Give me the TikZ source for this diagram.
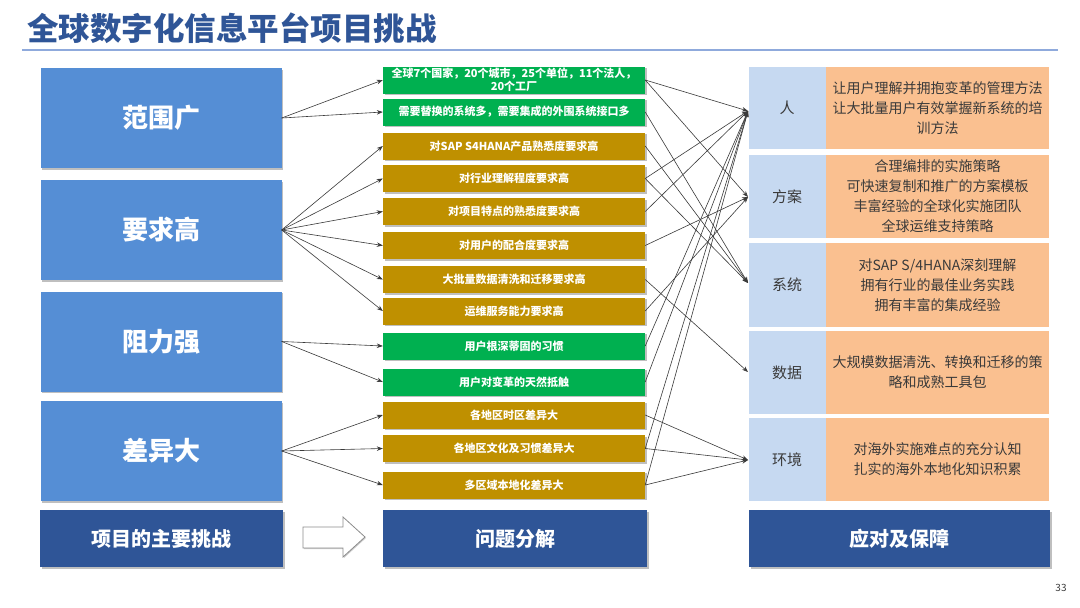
\documentclass[tikz,border=0pt]{standalone}
\usepackage{fontspec}
\setmainfont{Noto Sans CJK SC}
\usetikzlibrary{arrows.meta,shadows}
\definecolor{lblue}{HTML}{558ED5}
\definecolor{dblue}{HTML}{2F5597}
\definecolor{tblue}{HTML}{2F5597}
\definecolor{gr}{HTML}{00B050}
\definecolor{gold}{HTML}{BF9000}
\definecolor{pale}{HTML}{C6D9F1}
\definecolor{peach}{HTML}{FAC090}
\definecolor{txt}{HTML}{3A3A3A}
\definecolor{rule}{HTML}{8FAADC}
\tikzset{
  shd/.style={drop shadow={shadow xshift=1.5pt,shadow yshift=-1.5pt,opacity=0.25,fill=black}},
  lbox/.style={fill=lblue,text=white,font=\fontsize{26}{30}\selectfont\bfseries,minimum width=241pt,minimum height=100pt,inner sep=0pt,shd},
  bbox/.style={fill=dblue,text=white,font=\fontsize{20}{24}\selectfont\bfseries,minimum height=57pt,inner sep=0pt,shd},
  mbox/.style={text=white,font=\fontsize{11}{13}\selectfont\bfseries,minimum width=262pt,minimum height=27pt,inner sep=0pt,align=center,shd},
  gbox/.style={mbox,fill=gr},
  ybox/.style={mbox,fill=gold},
  rlab/.style={fill=pale,text=txt,font=\fontsize{15}{18}\selectfont,minimum width=77pt,inner sep=0pt},
  rtxt/.style={fill=peach,text=txt,font=\fontsize{14}{20}\selectfont,minimum width=223pt,inner sep=0pt,align=center},
  arr/.style={draw=txt,line width=0.6pt,-{Stealth[length=6pt,width=4.5pt]}},
}
\begin{document}
\begin{tikzpicture}[x=1pt,y=-1pt]
\useasboundingbox (0,0) rectangle (1080,608);
\fill[white] (0,0) rectangle (1080,608);
% title
\node[anchor=west,text=tblue,font=\fontsize{31.5}{34}\selectfont\bfseries,inner sep=0pt] (title) at (27,28) {全球数字化信息平台项目挑战};
\draw[rule,line width=1.5pt] (22,50) -- (1058,50);
% left boxes
\node[lbox] (L1) at (161,118) {范围广};
\node[lbox] (L2) at (161,230) {要求高};
\node[lbox] (L3) at (161,341.5) {阻力强};
\node[lbox] (L4) at (161,451) {差异大};
% middle boxes
\node[gbox] (m1) at (514,80) {全球7个国家，20个城市，25个单位，11个法人，\\20个工厂};
\node[gbox] (m2) at (514,112) {需要替换的系统多，需要集成的外围系统接口多};
\node[ybox] (m3) at (514,146) {对SAP S4HANA产品熟悉度要求高};
\node[ybox] (m4) at (514,178.5) {对行业理解程度要求高};
\node[ybox] (m5) at (514,211.5) {对项目特点的熟悉度要求高};
\node[ybox] (m6) at (514,245.5) {对用户的配合度要求高};
\node[ybox] (m7) at (514,279.5) {大批量数据清洗和迁移要求高};
\node[ybox] (m8) at (514,311) {运维服务能力要求高};
\node[gbox] (m9) at (514,346) {用户根深蒂固的习惯};
\node[gbox] (m10) at (514,382) {用户对变革的天然抵触};
\node[ybox] (m11) at (514,415) {各地区时区差异大};
\node[ybox] (m12) at (514,448.5) {各地区文化及习惯差异大};
\node[ybox] (m13) at (514,485) {多区域本地化差异大};
% right boxes
\node[rlab,minimum height=82pt] (r1) at (787,108) {人};
\node[rtxt,minimum height=82pt] (s1) at (937.5,108) {让用户理解并拥抱变革的管理方法\\让大批量用户有效掌握新系统的培\\训方法};
\node[rlab,minimum height=83pt] (r2) at (787,196.5) {方案};
\node[rtxt,minimum height=83pt] (s2) at (937.5,196.5) {合理编排的实施策略\\可快速复制和推广的方案模板\\丰富经验的全球化实施团队\\全球运维支持策略};
\node[rlab,minimum height=84pt] (r3) at (787,285) {系统};
\node[rtxt,minimum height=84pt] (s3) at (937.5,285) {对SAP S/4HANA深刻理解\\拥有行业的最佳业务实践\\拥有丰富的集成经验};
\node[rlab,minimum height=83pt] (r4) at (787,372.5) {数据};
\node[rtxt,minimum height=83pt] (s4) at (937.5,372.5) {大规模数据清洗、转换和迁移的策\\略和成熟工具包};
\node[rlab,minimum height=83pt] (r5) at (787,459.5) {环境};
\node[rtxt,minimum height=83pt] (s5) at (937.5,459.5) {对海外实施难点的充分认知\\扎实的海外本地化知识积累};
% bottom boxes
\node[bbox,minimum width=243pt] (b1) at (161.5,538.5) {项目的主要挑战};
\node[bbox,minimum width=264pt] (b2) at (515,538.5) {问题分解};
\node[bbox,minimum width=301pt] (b3) at (899.5,538.5) {应对及保障};
\draw[draw=black!45,fill=white,line width=0.8pt,drop shadow={shadow xshift=1pt,shadow yshift=-1pt,opacity=0.2,fill=black}]
  (303,527) -- (343,527) -- (343,517) -- (365,537) -- (343,557) -- (343,548) -- (303,548) -- cycle;
\node[font=\fontsize{10}{12}\selectfont,text=txt,inner sep=0pt] (pg) at (1061,588) {33};
% left arrows
\draw[arr] (L1.east) -- (m1.west);
\draw[arr] (L1.east) -- (m2.west);
\foreach \i in {3,...,8} \draw[arr] (L2.east) -- (m\i.west);
\draw[arr] (L3.east) -- (m9.west);
\draw[arr] (L3.east) -- (m10.west);
\foreach \i in {11,12,13} \draw[arr] (L4.east) -- (m\i.west);
% right targets
\coordinate (t1) at (748,111);
\coordinate (t2) at (748,197);
\coordinate (t3) at (748,283);
\coordinate (t4) at (748,372);
\coordinate (t5) at (748,460);
\foreach \i in {1,4,5,9,10,12,13} \draw[arr] (m\i.east) -- (t1);
\foreach \i in {1,6,8} \draw[arr] (m\i.east) -- (t2);
\foreach \i in {2,3,4} \draw[arr] (m\i.east) -- (t3);
\draw[arr] (m7.east) -- (t4);
\foreach \i in {11,12,13} \draw[arr] (m\i.east) -- (t5);
\end{tikzpicture}
\end{document}
